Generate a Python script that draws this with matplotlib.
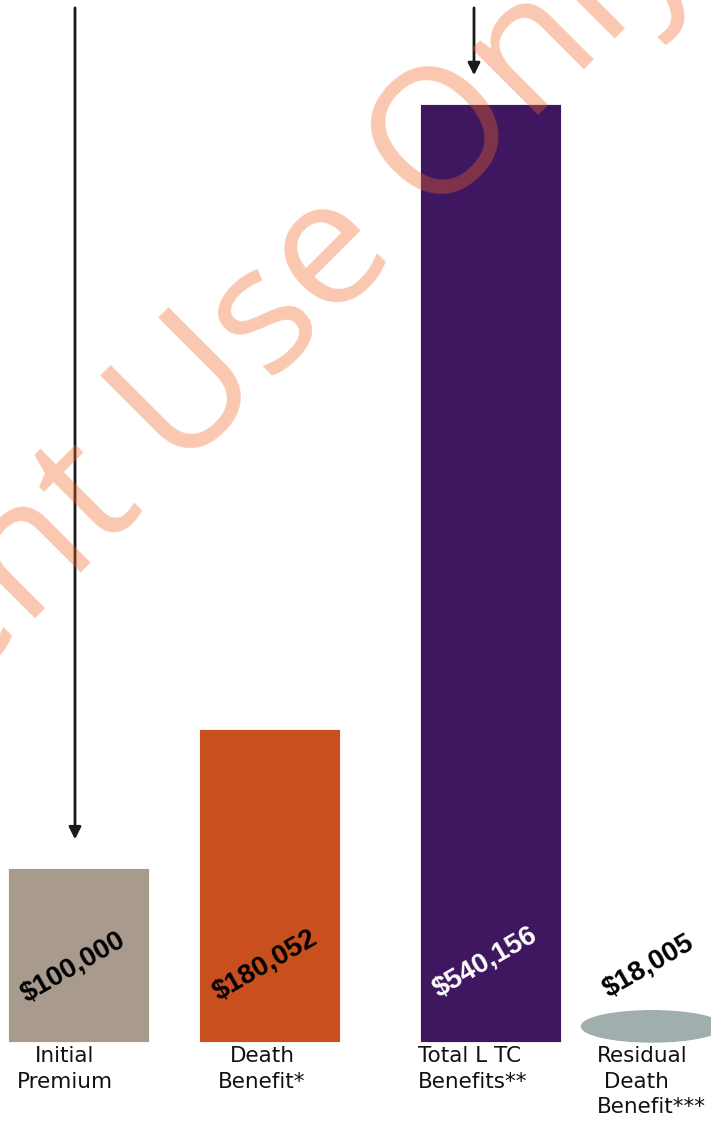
import matplotlib
matplotlib.use("Agg")
import matplotlib.pyplot as plt
from matplotlib.patches import Ellipse

# data
categories = ["Initial\nPremium", "Death\nBenefit*", "Total L TC\nBenefits**", "Residual\n Death\nBenefit***"]
values = [100000, 180052, 540156, 18005]
value_labels = ["$100,000", "$180,052", "$540,156", "$18,005"]
colors = ["#A89B8E", "#C9501E", "#3F1760", "#A0AFAE"]
label_colors = ["black", "black", "white", "black"]

# layout (x positions in pixel-like units, irregular spacing as in the original)
xpos = [78, 269, 490, 652]
bar_w = 141
ppx = 576.0  # data units per pixel

fig = plt.figure(figsize=(7.11, 11.25), dpi=100)
ax = fig.add_axes([0, 0, 1, 1])
ax.set_xlim(0, 711)
ax.set_ylim(-83 * ppx, 1042 * ppx)
ax.axis("off")

# first three as plain bars, the last one drawn as a flat ellipse
ax.bar(xpos[:3], values[:3], width=bar_w, color=colors[:3],
       edgecolor="#ffffff", linewidth=0.6, zorder=2)
ax.add_patch(Ellipse((xpos[3], values[3] / 2), bar_w, values[3],
                     color=colors[3], zorder=2))

# rotated value labels, all sitting low near the base
label_dx = [-5, -4, -5, -4]
label_h = [75, 77, 80, 76]
for x, txt, c, dx, h in zip(xpos, value_labels, label_colors, label_dx, label_h):
    ax.text(x + dx, h * ppx, txt, rotation=30, ha="center", va="center",
            fontsize=20, fontweight="bold", color=c, family="Liberation Sans", zorder=4)

# category labels
cat_x = [65, 262, 418, 597]
cat_ha = ["center", "center", "left", "left"]
for x, lab, ha in zip(cat_x, categories, cat_ha):
    ax.text(x, -4 * ppx, lab, ha=ha, va="top", fontsize=15.5, color="#111111",
            family="DejaVu Sans", linespacing=1.35, zorder=4)

# arrows pointing down at the first and third bars
for x, v in [(75, values[0]), (474, values[2])]:
    ax.annotate("", xy=(x, v + 29 * ppx), xytext=(x, 0.993),
                textcoords=("data", "axes fraction"),
                arrowprops=dict(arrowstyle="-|>", color="#1a1a1a", lw=2,
                                mutation_scale=18, shrinkA=0, shrinkB=0),
                zorder=3)

# watermark
fig.text(-0.262, 0.2534, "Client Use Only", rotation=45, rotation_mode="anchor",
         ha="left", va="baseline", fontsize=127, family="Open Sans",
         color=(0.95, 0.40, 0.15), alpha=0.36, zorder=10)

fig.savefig("out.png", dpi=100)
